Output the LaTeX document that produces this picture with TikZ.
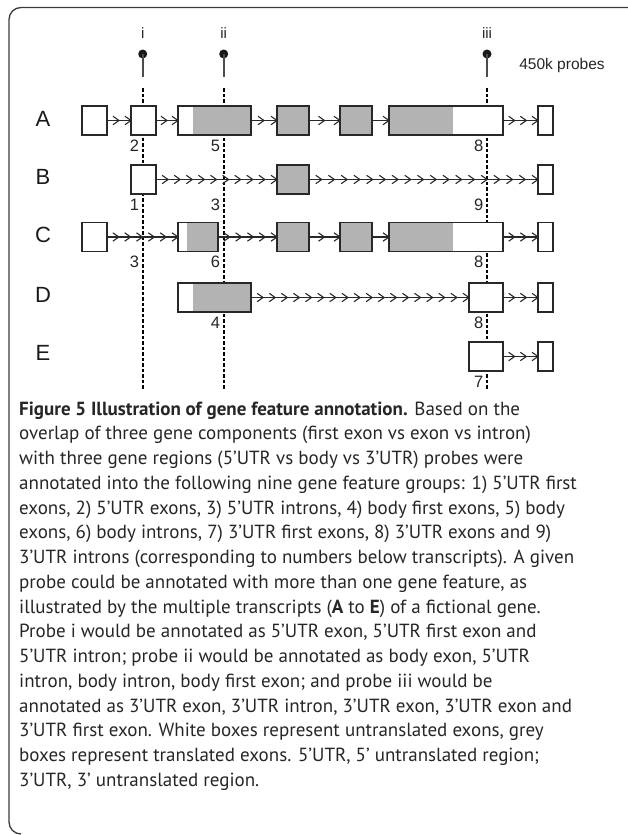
\documentclass[tikz,border=0pt]{standalone}
\usepackage{fontspec}
\setmainfont{PT Sans}
\newfontfamily\arialf{Liberation Sans}
\usetikzlibrary{calc}
\definecolor{exg}{RGB}{179,179,179}
\definecolor{lnc}{RGB}{40,40,40}
\definecolor{framec}{RGB}{60,60,60}
\tikzset{
  exon/.style={rectangle, draw=lnc, line width=1.4pt, fill=white, inner sep=0pt, outer sep=0pt, minimum height=29pt},
  gexon/.style={exon, fill=exg},
  fivep/.style={exon, path picture={\fill[exg] ([xshift=#1]path picture bounding box.south west) rectangle (path picture bounding box.north east);}},
  threep/.style={exon, path picture={\fill[exg] (path picture bounding box.south west) rectangle ([xshift=-#1]path picture bounding box.north east);}},
  intronln/.style={draw=lnc, line width=1.1pt},
  chev/.style={draw=lnc, line width=1.1pt, line join=miter},
  probeln/.style={draw=black, line width=1.9pt, dash pattern=on 3.5pt off 2pt},
  stalk/.style={draw=black!70, line width=1.8pt},
  pdot/.style={circle, fill=black!90, inner sep=0pt, minimum size=9pt},
  plab/.style={font=\arialf\fontsize{15}{17}\selectfont, text=black!85, inner sep=0pt},
  num/.style={font=\arialf\fontsize{16.5}{18}\selectfont, text=black!85, inner sep=0pt, anchor=east},
  rowlab/.style={font=\arialf\fontsize{22}{24}\selectfont, text=black!90, inner sep=0pt},
  captxt/.style={font=\fontsize{19}{21}\selectfont, text=black!85, inner sep=0pt, anchor=base west},
}
\newcommand\ex[5]{\node[#5, minimum width={(#3-#2)*1pt}] (#1) at ({(#2+#3)/2},#4) {};}
\newcommand\intr[3]{%
  \draw[intronln] (#1.east) -- (#2.west);
  \foreach \k in {1,...,#3}{
    \draw[chev] ($(#1.east)!{\k/#3}!(#2.west)$) ++(-6,4.2) -- ++(6,-4.2) -- ++(-6,-4.2);
  }%
}
\begin{document}
\begin{tikzpicture}[x=1pt,y=-1pt]
\useasboundingbox (0,0) rectangle (627,835);
% frame
\draw[framec, line width=1.3pt, rounded corners=12pt] (640,7.5) -- (9,7.5) -- (9,834) -- (21,834);
% probes
\def\xi{142.7}\def\xii{223.7}\def\xiii{487}
\foreach \nm/\x/\lab in {a/\xi/i, b/\xii/ii, c/\xiii/iii}{
  \node[plab] (lab\nm) at (\x,33) {\lab};
  \node[pdot] (dot\nm) at (\x,54) {};
  \coordinate (st\nm) at (\x,77);
  \draw[stalk] (dot\nm.center) -- (st\nm);
  \coordinate (top\nm) at (\x,88);
  \coordinate (bot\nm) at (\x,389);
  \draw[probeln] (top\nm) -- (bot\nm);
}
\node[plab, font=\arialf\fontsize{15.5}{17}\selectfont] (p450) at (562,65) {450k probes};
% rows
\def\yA{120.5}\def\yB{179.5}\def\yC{237}\def\yD{297.5}\def\yE{356.5}
\foreach \r/\y in {A/119,B/176.7,C/235,D/295,E/353}{\node[rowlab] (row\r) at (43,\y) {\r};}
% row A
\ex{a1}{82}{107}{\yA}{exon}
\ex{a2}{131}{156}{\yA}{exon}
\ex{a3}{178}{251}{\yA}{fivep=15pt}
\ex{a4}{277}{309}{\yA}{gexon}
\ex{a5}{340}{372}{\yA}{gexon}
\ex{a6}{389}{503}{\yA}{threep=50pt}
\ex{a7}{538}{553}{\yA}{exon}
\intr{a1}{a2}{2}\intr{a2}{a3}{2}\intr{a3}{a4}{2}\intr{a4}{a5}{2}\intr{a5}{a6}{1}\intr{a6}{a7}{3}
% row B
\ex{b1}{131}{156}{\yB}{exon}
\ex{b2}{277}{309}{\yB}{gexon}
\ex{b3}{538}{553}{\yB}{exon}
\intr{b1}{b2}{10}\intr{b2}{b3}{18}
% row C
\ex{c1}{82}{107}{\yC}{exon}
\ex{c2}{178}{218}{\yC}{fivep=9pt}
\ex{c3}{277}{309}{\yC}{gexon}
\ex{c4}{340}{372}{\yC}{gexon}
\ex{c5}{389}{503}{\yC}{threep=50pt}
\ex{c6}{538}{553}{\yC}{exon}
\intr{c1}{c2}{6}\intr{c2}{c3}{5}\intr{c3}{c4}{2}\intr{c4}{c5}{1}\intr{c5}{c6}{3}
% row D
\ex{d1}{178}{251}{\yD}{fivep=15pt}
\ex{d2}{469}{503}{\yD}{exon}
\ex{d3}{538}{553}{\yD}{exon}
\intr{d1}{d2}{18}\intr{d2}{d3}{3}
% row E
\ex{e1}{469}{503}{\yE}{exon}
\ex{e2}{538}{553}{\yE}{exon}
\intr{e1}{e2}{3}
% number labels
\node[num] (nA1) at (\xi-3.5,\yA+25) {2};
\node[num] (nA2) at (\xii-3.5,\yA+25) {5};
\node[num] (nA3) at (\xiii-3.5,\yA+25) {8};
\node[num] (nB1) at (\xi-3.5,\yB+25) {1};
\node[num] (nB2) at (\xii-3.5,\yB+25) {3};
\node[num] (nB3) at (\xiii-3.5,\yB+25) {9};
\node[num] (nC1) at (\xi-3.5,\yC+25) {3};
\node[num] (nC2) at (\xii-3.5,\yC+25) {6};
\node[num] (nC3) at (\xiii-3.5,\yC+25) {8};
\node[num] (nD2) at (\xii-3.5,\yD+25) {4};
\node[num] (nD3) at (\xiii-3.5,\yD+25) {8};
\node[num] (nE3) at (\xiii-3.5,\yE+25) {7};
% caption
\def\cx{19}\def\cy{415}\def\cd{24.75}
\node[captxt] (c01) at (\cx,\cy+0*\cd) {\textbf{Figure 5 Illustration of gene feature annotation.} Based on the};
\node[captxt] (c02) at (\cx,\cy+1*\cd) {overlap of three gene components (first exon vs exon vs intron)};
\node[captxt] (c03) at (\cx,\cy+2*\cd) {with three gene regions (5’UTR vs body vs 3’UTR) probes were};
\node[captxt] (c04) at (\cx,\cy+3*\cd) {annotated into the following nine gene feature groups: 1) 5’UTR first};
\node[captxt] (c05) at (\cx,\cy+4*\cd) {exons, 2) 5’UTR exons, 3) 5’UTR introns, 4) body first exons, 5) body};
\node[captxt] (c06) at (\cx,\cy+5*\cd) {exons, 6) body introns, 7) 3’UTR first exons, 8) 3’UTR exons and 9)};
\node[captxt] (c07) at (\cx,\cy+6*\cd) {3’UTR introns (corresponding to numbers below transcripts). A given};
\node[captxt] (c08) at (\cx,\cy+7*\cd) {probe could be annotated with more than one gene feature, as};
\node[captxt] (c09) at (\cx,\cy+8*\cd) {illustrated by the multiple transcripts (\textbf{A} to \textbf{E}) of a fictional gene.};
\node[captxt] (c10) at (\cx,\cy+9*\cd) {Probe i would be annotated as 5’UTR exon, 5’UTR first exon and};
\node[captxt] (c11) at (\cx,\cy+10*\cd) {5’UTR intron; probe ii would be annotated as body exon, 5’UTR};
\node[captxt] (c12) at (\cx,\cy+11*\cd) {intron, body intron, body first exon; and probe iii would be};
\node[captxt] (c13) at (\cx,\cy+12*\cd) {annotated as 3’UTR exon, 3’UTR intron, 3’UTR exon, 3’UTR exon and};
\node[captxt] (c14) at (\cx,\cy+13*\cd) {3’UTR first exon. White boxes represent untranslated exons, grey};
\node[captxt] (c15) at (\cx,\cy+14*\cd) {boxes represent translated exons. 5’UTR, 5’ untranslated region;};
\node[captxt] (c16) at (\cx,\cy+15*\cd) {3’UTR, 3’ untranslated region.};
\end{tikzpicture}
\end{document}
